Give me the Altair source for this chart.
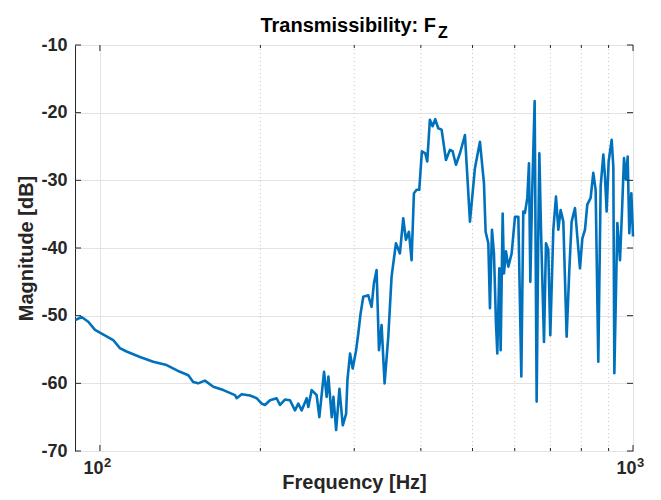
import altair as alt
import pandas as pd

# Frequency [Hz] and magnitude [dB]
freq = [89.9, 92.4, 95.1, 97.9, 100.0, 105.9, 109.0, 112.2, 118.9, 125.9,
        133.4, 141.3, 146.5, 149.6, 152.9, 157.4, 163.2, 170.4, 179.2, 180.5,
        184.5, 191.2, 196.8, 201.1, 204.0, 208.5, 214.5, 217.7, 222.4, 227.3,
        232.2, 235.6, 239.0, 244.3, 246.0, 249.6, 255.0, 258.0, 263.3, 266.3,
        268.3, 272.2, 274.2, 277.4, 281.4, 285.5, 289.6, 291.3, 294.6, 298.0,
        302.4, 305.3, 308.3, 311.9, 318.7, 323.3, 326.6, 330.4, 333.8, 337.6,
        342.0, 347.5, 352.5, 359.2, 365.4, 370.7, 375.0, 379.9, 384.3, 388.2,
        392.7, 397.2, 401.8, 407.6, 411.2, 415.9, 420.8, 425.6, 431.2, 437.5,
        445.8, 453.5, 458.8, 465.5, 473.6, 483.9, 494.5, 505.2, 516.3, 525.3,
        529.1, 535.3, 539.1, 543.8, 548.5, 553.3, 556.5, 561.3, 564.6, 569.5,
        572.8, 577.8, 583.6, 592.1, 600.6, 609.4, 617.3, 622.6, 627.1, 633.5,
        638.1, 641.8, 646.4, 653.9, 659.6, 664.4, 667.3, 672.1, 680.8, 686.7,
        693.6, 699.6, 708.8, 717.0, 724.3, 731.6, 740.1, 750.8, 759.5, 767.2,
        778.3, 786.2, 795.3, 803.4, 812.7, 820.9, 832.8, 842.4, 851.0, 860.8,
        869.6, 879.7, 886.0, 892.4, 900.2, 912.0, 918.6, 922.6, 934.6, 945.4,
        953.6, 961.9, 970.2, 977.2, 984.2, 992.9, 1000.0]
mag = [-50.65, -50.2, -50.9, -52.1, -52.5, -53.6, -54.8, -55.3, -56.1, -56.8,
       -57.3, -58.3, -58.8, -59.8, -60.0, -59.6, -60.5, -61.0, -61.75, -62.2,
       -61.6, -61.8, -62.2, -63.0, -63.2, -62.5, -62.2, -63.2, -62.4, -62.5,
       -64.0, -63.0, -64.0, -62.2, -63.5, -61.0, -61.75, -65.0, -58.3, -62.0,
       -59.0, -65.0, -62.0, -66.9, -60.8, -66.2, -64.5, -59.5, -55.6, -57.8,
       -55.1, -52.6, -49.7, -47.2, -47.0, -48.7, -45.2, -43.25, -55.1, -51.4,
       -60.0, -53.1, -44.2, -39.3, -40.8, -35.6, -38.8, -37.6, -41.8, -31.9,
       -31.4, -31.4, -25.7, -26.0, -27.2, -21.05, -22.0, -20.95, -22.3, -22.5,
       -27.0, -25.5, -25.7, -27.7, -26.0, -23.3, -36.1, -28.2, -24.3, -30.4,
       -37.6, -39.3, -48.9, -37.3, -40.8, -51.1, -55.6, -43.0, -55.1, -34.9,
       -43.75, -40.5, -42.75, -40.8, -35.4, -35.4, -59.0, -34.6, -34.8, -32.6,
       -27.5, -45.0, -32.9, -18.3, -62.7, -37.3, -26.0, -37.3, -53.9, -39.3,
       -40.3, -52.9, -37.3, -32.4, -37.3, -34.4, -36.1, -53.1, -43.25, -36.1,
       -34.1, -38.3, -43.0, -38.6, -37.3, -33.6, -32.6, -28.9, -31.4, -56.8,
       -30.9, -26.2, -29.4, -34.6, -27.2, -24.0, -28.0, -58.5, -36.3, -41.8,
       -34.6, -26.7, -29.9, -26.5, -37.8, -31.9, -38.3]

x_major = [100, 1000]
x_exponents = ["2", "3"]
x_minor = [200, 300, 400, 500, 600, 700, 800, 900]
y_ticks = [-70, -60, -50, -40, -30, -20, -10]

title_main = "Transmissibility: F"
title_sub = "Z"
x_title = "Frequency [Hz]"
y_title = "Magnitude [dB]"

W, H = 558, 406
FONT = "Liberation Sans"
INK = "#262626"
BLUE = "#0072BD"

df = pd.DataFrame({"f": freq, "db": mag})
xmaj = pd.DataFrame({"f": x_major, "e": x_exponents})
xmin = pd.DataFrame({"f": x_minor})
yt = pd.DataFrame({"db": y_ticks})

xscale = alt.Scale(type="log", domain=[89.8, 1000], nice=False)
yscale = alt.Scale(domain=[-70, -10], nice=False, zero=False)

minor_grid = alt.Chart(xmin).mark_rule(color="#c8c8c8", strokeWidth=1, strokeDash=[1, 3]).encode(
    x=alt.X("f:Q", scale=xscale)
)

line = alt.Chart(df).mark_line(color=BLUE, strokeWidth=2.6, interpolate="linear",
                               strokeJoin="round").encode(
    x=alt.X("f:Q", scale=xscale,
            axis=alt.Axis(values=x_major, labelExpr="'10'", labelAlign="right",
                          labelFlush=False, labelOffset=3,
                          title=x_title, grid=True, gridColor="#e3e3e3", gridWidth=1,
                          ticks=False, domain=False, labelFont=FONT, labelFontSize=18,
                          labelFontWeight="bold", labelColor=INK, labelPadding=8,
                          titleFont=FONT, titleFontSize=20, titleFontWeight="bold",
                          titleColor=INK, titlePadding=-5)),
    y=alt.Y("db:Q", scale=yscale,
            axis=alt.Axis(values=y_ticks, labelExpr="'' + datum.value", title=y_title,
                          grid=True, gridColor="#e3e3e3",
                          gridWidth=1, ticks=False, domain=False, labelFont=FONT,
                          labelFontSize=18, labelFontWeight="bold", labelColor=INK,
                          labelPadding=8, titleFont=FONT, titleFontSize=20,
                          titleFontWeight="bold", titleColor=INK, titlePadding=4)),
)

tick_style = dict(color=INK, strokeWidth=1)
ytick_l = alt.Chart(yt).mark_rule(**tick_style).encode(
    y=alt.Y("db:Q", scale=yscale), x=alt.value(0), x2=alt.value(6))
ytick_r = alt.Chart(yt).mark_rule(**tick_style).encode(
    y=alt.Y("db:Q", scale=yscale), x=alt.value(W), x2=alt.value(W - 6))
xtick_b = alt.Chart(xmaj).mark_rule(**tick_style).encode(
    x=alt.X("f:Q", scale=xscale), y=alt.value(H), y2=alt.value(H - 6))
xtick_t = alt.Chart(xmaj).mark_rule(**tick_style).encode(
    x=alt.X("f:Q", scale=xscale), y=alt.value(0), y2=alt.value(6))
xmtick_b = alt.Chart(xmin).mark_rule(**tick_style).encode(
    x=alt.X("f:Q", scale=xscale), y=alt.value(H), y2=alt.value(H - 3))
xmtick_t = alt.Chart(xmin).mark_rule(**tick_style).encode(
    x=alt.X("f:Q", scale=xscale), y=alt.value(0), y2=alt.value(3))

exps = alt.Chart(xmaj).mark_text(
    font=FONT, fontSize=13, fontWeight="bold", color=INK, align="left",
    baseline="alphabetic", dx=4).encode(
    x=alt.X("f:Q", scale=xscale), y=alt.value(H + 16), text="e:N")

t_main = alt.Chart(pd.DataFrame({"t": [title_main]})).mark_text(
    font=FONT, fontSize=20, fontWeight="bold", color="#000000", align="right",
    baseline="alphabetic").encode(text="t:N", x=alt.value(361), y=alt.value(-13))
t_sub = alt.Chart(pd.DataFrame({"t": [title_sub]})).mark_text(
    font=FONT, fontSize=16, fontWeight="bold", color="#000000", align="left",
    baseline="alphabetic").encode(text="t:N", x=alt.value(363), y=alt.value(-7))

chart = alt.layer(minor_grid, line, ytick_l, ytick_r, xtick_b, xtick_t, xmtick_b, xmtick_t,
                  exps, t_main, t_sub).properties(
    width=W, height=H,
    autosize=alt.AutoSizeParams(type="none"),
    padding={"left": 75, "top": 45, "right": 28, "bottom": 49},
    background="white",
).configure_view(stroke=INK, strokeWidth=1)

chart.save("out.html", embed_options={"renderer": "svg", "actions": False})
